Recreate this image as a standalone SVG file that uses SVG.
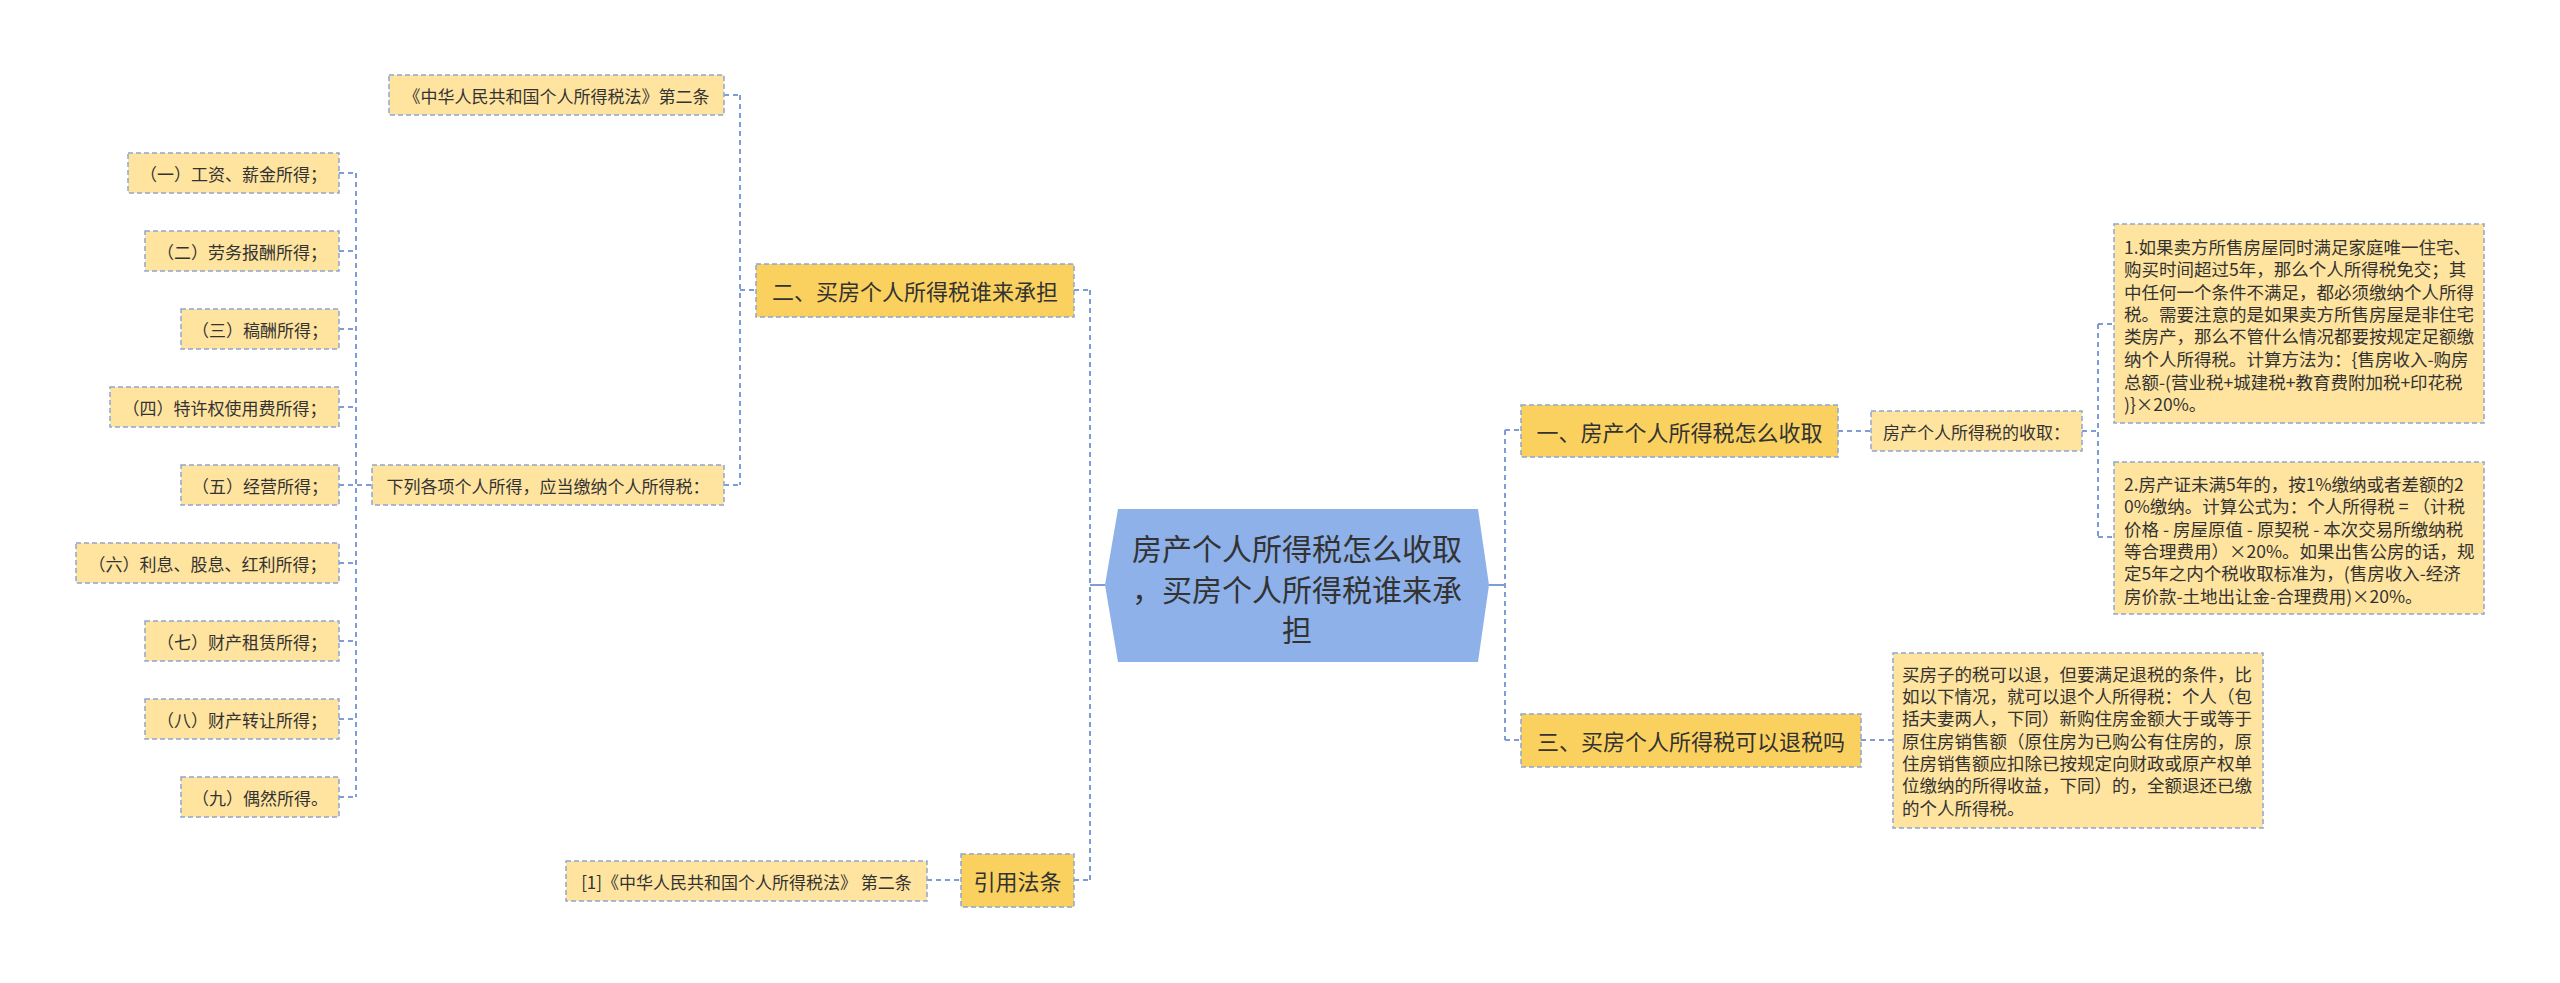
<svg xmlns="http://www.w3.org/2000/svg" width="2560" height="983" viewBox="0 0 2560 983">
<style>
text{font-family:"Noto Sans CJK SC","Noto Sans",sans-serif;fill:#333;dominant-baseline:central}
.root{fill:#8EB1EA}
.br{fill:#FAD15E;stroke:#8DA7D6;stroke-width:1.5;stroke-dasharray:5 3}
.lf{fill:#FFE49F;stroke:#8DA7D6;stroke-width:1.5;stroke-dasharray:5 3}
.t30{font-size:30px;text-anchor:middle}
.t22{font-size:22px;text-anchor:middle}
.t17{font-size:17px;text-anchor:middle}
.tp{font-size:17.5px}
.c{fill:none;stroke:#7E9DD6;stroke-width:2;stroke-dasharray:5 4}
.cs{fill:none;stroke:#7E9DD6;stroke-width:2}
</style>
<rect width="2560" height="983" fill="#fff"/>
<g id="connectors">
<path class="cs" d="M1105 585H1090M1489 585H1505"/>
<path class="c" d="M1090 290V880M1074 290H1090M1074 880H1090"/>
<path class="c" d="M1505 430V740M1505 430H1521M1505 740H1521"/>
<path class="c" d="M1838 431H1871M2082 431H2098M2098 324V537M2098 324H2114M2098 537H2114"/>
<path class="c" d="M1861 740H1893"/>
<path class="c" d="M927 880H961"/>
<path class="c" d="M740 95V485M724 95H740M740 290H756M724 485H740"/>
<path class="c" d="M356 173V797M339 173H356M339 251H356M339 329H356M339 407H356M339 485H372M339 563H356M339 641H356M339 719H356M339 797H356"/>
</g>
<g id="root">
<polygon class="root" points="1105,585 1118,509 1478,509 1489,585 1478,662 1118,662"/>
<text class="t30" x="1297" y="547">房产个人所得税怎么收取</text>
<text class="t30" x="1297" y="588">，买房个人所得税谁来承</text>
<text class="t30" x="1297" y="628">担</text>
</g>
<g id="b1">
<rect class="br" x="1521" y="405" width="317" height="52"/>
<text class="t22" x="1679.500" y="431">一、房产个人所得税怎么收取</text>
</g>
<g id="b1s">
<rect class="lf" x="1871" y="411" width="211" height="40"/>
<text class="t17" x="1976.500" y="431">房产个人所得税的收取：</text>
</g>
<g id="b1d1">
<rect class="lf" x="2114" y="224" width="370" height="199"/>
<text class="tp" x="2124">
<tspan x="2124" y="246">1.如果卖方所售房屋同时满足家庭唯一住宅、</tspan>
<tspan x="2124" y="268">购买时间超过5年，那么个人所得税免交；其</tspan>
<tspan x="2124" y="291">中任何一个条件不满足，都必须缴纳个人所得</tspan>
<tspan x="2124" y="313">税。需要注意的是如果卖方所售房屋是非住宅</tspan>
<tspan x="2124" y="335">类房产，那么不管什么情况都要按规定足额缴</tspan>
<tspan x="2124" y="358">纳个人所得税。计算方法为：{售房收入-购房</tspan>
<tspan x="2124" y="381">总额-(营业税+城建税+教育费附加税+印花税</tspan>
<tspan x="2124" y="403">)}×20%。</tspan>
</text>
</g>
<g id="b1d2">
<rect class="lf" x="2114" y="462" width="370" height="152"/>
<text class="tp" x="2124">
<tspan x="2124" y="483">2.房产证未满5年的，按1%缴纳或者差额的2</tspan>
<tspan x="2124" y="505">0%缴纳。计算公式为：个人所得税 = （计税</tspan>
<tspan x="2124" y="528">价格 - 房屋原值 - 原契税 - 本次交易所缴纳税</tspan>
<tspan x="2124" y="550">等合理费用）×20%。如果出售公房的话，规</tspan>
<tspan x="2124" y="572">定5年之内个税收取标准为，(售房收入-经济</tspan>
<tspan x="2124" y="595">房价款-土地出让金-合理费用)×20%。</tspan>
</text>
</g>
<g id="b3">
<rect class="br" x="1521" y="714" width="340" height="53"/>
<text class="t22" x="1691" y="740">三、买房个人所得税可以退税吗</text>
</g>
<g id="b3d">
<rect class="lf" x="1893" y="653" width="370" height="175"/>
<text class="tp" x="1902">
<tspan x="1902" y="673">买房子的税可以退，但要满足退税的条件，比</tspan>
<tspan x="1902" y="695">如以下情况，就可以退个人所得税：个人（包</tspan>
<tspan x="1902" y="717">括夫妻两人，下同）新购住房金额大于或等于</tspan>
<tspan x="1902" y="740">原住房销售额（原住房为已购公有住房的，原</tspan>
<tspan x="1902" y="762">住房销售额应扣除已按规定向财政或原产权单</tspan>
<tspan x="1902" y="784">位缴纳的所得收益，下同）的，全额退还已缴</tspan>
<tspan x="1902" y="807">的个人所得税。</tspan>
</text>
</g>
<g id="b2">
<rect class="br" x="756" y="264" width="318" height="53"/>
<text class="t22" x="915" y="290">二、买房个人所得税谁来承担</text>
</g>
<g id="b2law">
<rect class="lf" x="389" y="75" width="335" height="40"/>
<text class="t17" x="556.500" y="95">《中华人民共和国个人所得税法》第二条</text>
</g>
<g id="b2list">
<rect class="lf" x="372" y="465" width="352" height="40"/>
<text class="t17" x="548" y="485">下列各项个人所得，应当缴纳个人所得税：</text>
</g>
<g id="i1"><rect class="lf" x="128" y="153" width="211" height="40"/><text class="t17" x="233.500" y="173">（一）工资、薪金所得；</text></g>
<g id="i2"><rect class="lf" x="145" y="231" width="194" height="40"/><text class="t17" x="242" y="251">（二）劳务报酬所得；</text></g>
<g id="i3"><rect class="lf" x="181" y="309" width="158" height="40"/><text class="t17" x="260" y="329">（三）稿酬所得；</text></g>
<g id="i4"><rect class="lf" x="110" y="387" width="229" height="40"/><text class="t17" x="224.500" y="407">（四）特许权使用费所得；</text></g>
<g id="i5"><rect class="lf" x="181" y="465" width="158" height="40"/><text class="t17" x="260" y="485">（五）经营所得；</text></g>
<g id="i6"><rect class="lf" x="76" y="543" width="263" height="40"/><text class="t17" x="207.500" y="563">（六）利息、股息、红利所得；</text></g>
<g id="i7"><rect class="lf" x="145" y="621" width="194" height="40"/><text class="t17" x="242" y="641">（七）财产租赁所得；</text></g>
<g id="i8"><rect class="lf" x="145" y="699" width="194" height="40"/><text class="t17" x="242" y="719">（八）财产转让所得；</text></g>
<g id="i9"><rect class="lf" x="181" y="777" width="158" height="40"/><text class="t17" x="260" y="797">（九）偶然所得。</text></g>
<g id="ref">
<rect class="br" x="961" y="854" width="113" height="53"/>
<text class="t22" x="1017.500" y="880">引用法条</text>
</g>
<g id="refd">
<rect class="lf" x="566" y="861" width="361" height="40"/>
<text class="t17" x="746.500" y="881">[1]《中华人民共和国个人所得税法》 第二条</text>
</g>
</svg>
